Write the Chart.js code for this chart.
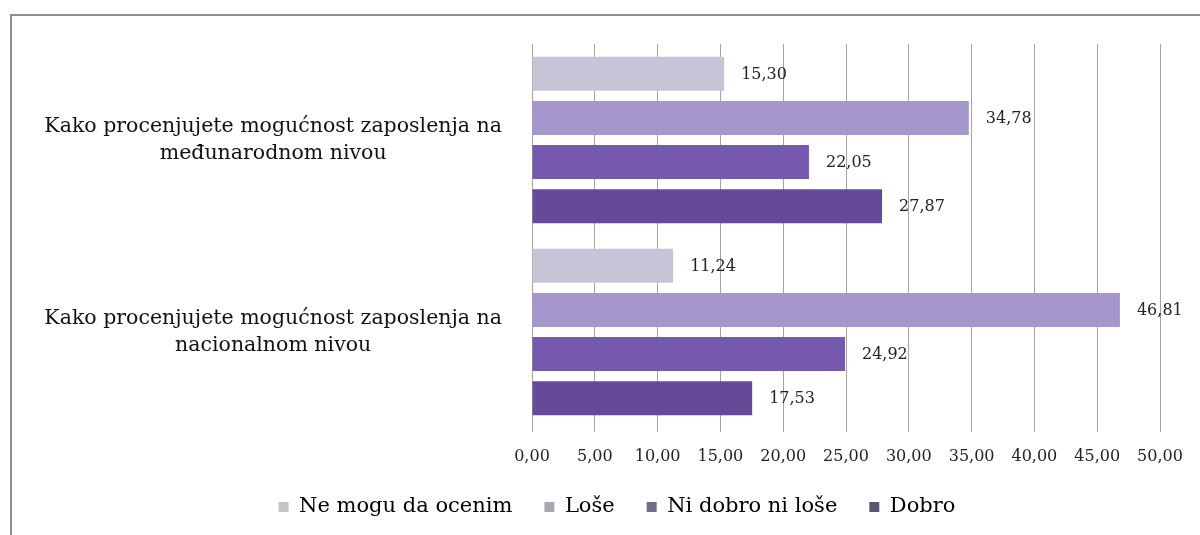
<!DOCTYPE html>
<html>
<head>
<meta charset="utf-8">
<script src="https://cdn.jsdelivr.net/npm/chart.js@4.4.1/dist/chart.umd.min.js"></script>
<style>
  html, body { margin: 0; padding: 0; background: #fff; }
  #wrap { position: relative; width: 1200px; height: 535px; overflow: hidden; }
  #frame { position: absolute; left: 10px; top: 14px; width: 1200px; height: 530px;
           border-left: 2px solid #8e8e8e; border-top: 2px solid #8e8e8e; pointer-events: none; }
</style>
</head>
<body>
<div id="wrap">
  <canvas id="c" width="1200" height="535"></canvas>
  <div id="frame"></div>
</div>
<script>
const categories = [
  ["Kako procenjujete mogućnost zaposlenja na", "međunarodnom nivou"],
  ["Kako procenjujete mogućnost zaposlenja na", "nacionalnom nivou"]
];
const seriesNames = ["Ne mogu da ocenim", "Loše", "Ni dobro ni loše", "Dobro"];
const neMoguDaOcenim = [15.30, 11.24];
const lose = [34.78, 46.81];
const niDobroNiLose = [22.05, 24.92];
const dobro = [27.87, 17.53];
const xTicksMin = 0, xTicksMax = 50, xTicksStep = 5;

const barColors = ["#c8c3d6", "#a596cb", "#7559ae", "#664a9a"];
const legendColors = ["#c3c3c8", "#a8a8b0", "#6f6d8c", "#5a5573"];
const serif = "'DejaVu Serif', 'Liberation Serif', serif";

const valueLabels = {
  id: 'valueLabels',
  afterDatasetsDraw(chart) {
    const ctx = chart.ctx;
    ctx.save();
    ctx.font = "16px " + serif;
    ctx.fillStyle = "#222";
    ctx.textAlign = "left";
    ctx.textBaseline = "middle";
    chart.data.datasets.forEach((ds, i) => {
      const meta = chart.getDatasetMeta(i);
      meta.data.forEach((el, j) => {
        const v = ds.data[j];
        ctx.fillText(v.toFixed(2).replace('.', ','), el.x + 17, el.y + 1);
      });
    });
    ctx.restore();
  }
};

const shiftLegend = {
  id: 'shiftLegend',
  afterLayout(chart) {
    if (chart.legend) { chart.legend.left += 37; chart.legend.right += 37; }
  }
};

new Chart(document.getElementById('c'), {
  type: 'bar',
  data: {
    labels: categories,
    datasets: [
      { label: seriesNames[0], data: neMoguDaOcenim, backgroundColor: barColors[0] },
      { label: seriesNames[1], data: lose, backgroundColor: barColors[1] },
      { label: seriesNames[2], data: niDobroNiLose, backgroundColor: barColors[2] },
      { label: seriesNames[3], data: dobro, backgroundColor: barColors[3] }
    ]
  },
  options: {
    indexAxis: 'y',
    responsive: false,
    animation: false,
    categoryPercentage: 0.92,
    barPercentage: 0.77,
    layout: { padding: { top: 44, right: 40, left: 0, bottom: 7.5 } },
    scales: {
      x: {
        min: xTicksMin, max: xTicksMax,
        grid: { color: '#a4a4a4', lineWidth: 1, tickLength: 4, drawTicks: true },
        border: { display: false },
        ticks: {
          stepSize: xTicksStep, padding: 15, color: '#222',
          font: { family: serif, size: 16 },
          callback: (v) => Number(v).toFixed(2).replace('.', ',')
        },
        afterFit(scale) { scale.height = 36.5; }
      },
      y: {
        grid: { display: false, drawTicks: true, tickLength: 13 },
        border: { display: true, color: '#a4a4a4', width: 1 },
        ticks: {
          crossAlign: 'center', padding: 17, color: '#111',
          font: { family: serif, size: 20.5, lineHeight: 1.32 }
        },
        afterFit(scale) { scale.width = 532; }
      }
    },
    plugins: {
      legend: {
        position: 'bottom',
        labels: {
          boxWidth: 10, boxHeight: 10, padding: 32, color: '#111',
          font: { family: serif, size: 21 },
          generateLabels(chart) {
            return chart.data.datasets.map((ds, i) => ({
              text: ds.label, fillStyle: legendColors[i], strokeStyle: legendColors[i],
              lineWidth: 0, hidden: false, datasetIndex: i
            }));
          }
        }
      },
      tooltip: { enabled: false }
    }
  },
  plugins: [valueLabels, shiftLegend]
});
</script>
</body>
</html>
